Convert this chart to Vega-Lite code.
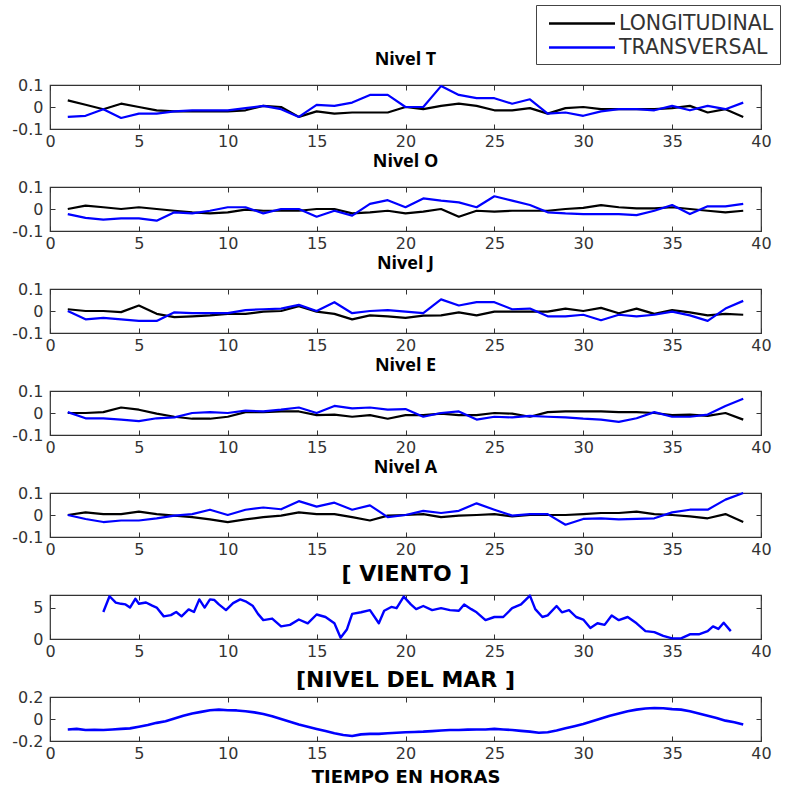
{
  "$schema": "https://vega.github.io/schema/vega-lite/v6.json",
  "background": "white",
  "padding": {"left": 11, "top": 3, "right": 3, "bottom": 2},
  "bounds": "flush",
  "spacing": 58,
  "datasets": {
    "niveles": [
      {"nivel":"T","hora":1,"LONGITUDINAL":0.03,"TRANSVERSAL":-0.045},{"nivel":"T","hora":2,"LONGITUDINAL":0.01,"TRANSVERSAL":-0.04},{"nivel":"T","hora":3,"LONGITUDINAL":-0.01,"TRANSVERSAL":-0.01},{"nivel":"T","hora":4,"LONGITUDINAL":0.015,"TRANSVERSAL":-0.05},{"nivel":"T","hora":5,"LONGITUDINAL":0.0,"TRANSVERSAL":-0.03},{"nivel":"T","hora":6,"LONGITUDINAL":-0.015,"TRANSVERSAL":-0.03},{"nivel":"T","hora":7,"LONGITUDINAL":-0.02,"TRANSVERSAL":-0.02},{"nivel":"T","hora":8,"LONGITUDINAL":-0.02,"TRANSVERSAL":-0.015},{"nivel":"T","hora":9,"LONGITUDINAL":-0.02,"TRANSVERSAL":-0.015},{"nivel":"T","hora":10,"LONGITUDINAL":-0.02,"TRANSVERSAL":-0.015},
      {"nivel":"T","hora":11,"LONGITUDINAL":-0.015,"TRANSVERSAL":-0.005},{"nivel":"T","hora":12,"LONGITUDINAL":0.005,"TRANSVERSAL":0.005},{"nivel":"T","hora":13,"LONGITUDINAL":0.0,"TRANSVERSAL":-0.01},{"nivel":"T","hora":14,"LONGITUDINAL":-0.045,"TRANSVERSAL":-0.045},{"nivel":"T","hora":15,"LONGITUDINAL":-0.02,"TRANSVERSAL":0.01},{"nivel":"T","hora":16,"LONGITUDINAL":-0.03,"TRANSVERSAL":0.005},{"nivel":"T","hora":17,"LONGITUDINAL":-0.025,"TRANSVERSAL":0.02},{"nivel":"T","hora":18,"LONGITUDINAL":-0.025,"TRANSVERSAL":0.055},{"nivel":"T","hora":19,"LONGITUDINAL":-0.025,"TRANSVERSAL":0.055},{"nivel":"T","hora":20,"LONGITUDINAL":0.0,"TRANSVERSAL":0.0},
      {"nivel":"T","hora":21,"LONGITUDINAL":-0.01,"TRANSVERSAL":0.0},{"nivel":"T","hora":22,"LONGITUDINAL":0.005,"TRANSVERSAL":0.095},{"nivel":"T","hora":23,"LONGITUDINAL":0.015,"TRANSVERSAL":0.055},{"nivel":"T","hora":24,"LONGITUDINAL":0.005,"TRANSVERSAL":0.04},{"nivel":"T","hora":25,"LONGITUDINAL":-0.015,"TRANSVERSAL":0.04},{"nivel":"T","hora":26,"LONGITUDINAL":-0.015,"TRANSVERSAL":0.015},{"nivel":"T","hora":27,"LONGITUDINAL":-0.005,"TRANSVERSAL":0.035},{"nivel":"T","hora":28,"LONGITUDINAL":-0.03,"TRANSVERSAL":-0.03},{"nivel":"T","hora":29,"LONGITUDINAL":-0.005,"TRANSVERSAL":-0.025},{"nivel":"T","hora":30,"LONGITUDINAL":0.0,"TRANSVERSAL":-0.04},
      {"nivel":"T","hora":31,"LONGITUDINAL":-0.01,"TRANSVERSAL":-0.02},{"nivel":"T","hora":32,"LONGITUDINAL":-0.01,"TRANSVERSAL":-0.01},{"nivel":"T","hora":33,"LONGITUDINAL":-0.01,"TRANSVERSAL":-0.01},{"nivel":"T","hora":34,"LONGITUDINAL":-0.01,"TRANSVERSAL":-0.015},{"nivel":"T","hora":35,"LONGITUDINAL":-0.005,"TRANSVERSAL":0.005},{"nivel":"T","hora":36,"LONGITUDINAL":0.005,"TRANSVERSAL":-0.015},{"nivel":"T","hora":37,"LONGITUDINAL":-0.025,"TRANSVERSAL":0.005},{"nivel":"T","hora":38,"LONGITUDINAL":-0.01,"TRANSVERSAL":-0.01},{"nivel":"T","hora":39,"LONGITUDINAL":-0.045,"TRANSVERSAL":0.02},

      {"nivel":"O","hora":1,"LONGITUDINAL":0.0,"TRANSVERSAL":-0.023},{"nivel":"O","hora":2,"LONGITUDINAL":0.015,"TRANSVERSAL":-0.04},{"nivel":"O","hora":3,"LONGITUDINAL":0.008,"TRANSVERSAL":-0.048},{"nivel":"O","hora":4,"LONGITUDINAL":0.0,"TRANSVERSAL":-0.043},{"nivel":"O","hora":5,"LONGITUDINAL":0.008,"TRANSVERSAL":-0.043},{"nivel":"O","hora":6,"LONGITUDINAL":0.0,"TRANSVERSAL":-0.053},{"nivel":"O","hora":7,"LONGITUDINAL":-0.008,"TRANSVERSAL":-0.015},{"nivel":"O","hora":8,"LONGITUDINAL":-0.015,"TRANSVERSAL":-0.02},{"nivel":"O","hora":9,"LONGITUDINAL":-0.02,"TRANSVERSAL":-0.008},{"nivel":"O","hora":10,"LONGITUDINAL":-0.015,"TRANSVERSAL":0.008},
      {"nivel":"O","hora":11,"LONGITUDINAL":-0.003,"TRANSVERSAL":0.008},{"nivel":"O","hora":12,"LONGITUDINAL":-0.008,"TRANSVERSAL":-0.02},{"nivel":"O","hora":13,"LONGITUDINAL":-0.008,"TRANSVERSAL":0.0},{"nivel":"O","hora":14,"LONGITUDINAL":-0.008,"TRANSVERSAL":0.0},{"nivel":"O","hora":15,"LONGITUDINAL":0.0,"TRANSVERSAL":-0.035},{"nivel":"O","hora":16,"LONGITUDINAL":0.0,"TRANSVERSAL":-0.008},{"nivel":"O","hora":17,"LONGITUDINAL":-0.02,"TRANSVERSAL":-0.03},{"nivel":"O","hora":18,"LONGITUDINAL":-0.015,"TRANSVERSAL":0.023},{"nivel":"O","hora":19,"LONGITUDINAL":-0.008,"TRANSVERSAL":0.04},{"nivel":"O","hora":20,"LONGITUDINAL":-0.02,"TRANSVERSAL":0.008},
      {"nivel":"O","hora":21,"LONGITUDINAL":-0.012,"TRANSVERSAL":0.048},{"nivel":"O","hora":22,"LONGITUDINAL":0.0,"TRANSVERSAL":0.038},{"nivel":"O","hora":23,"LONGITUDINAL":-0.035,"TRANSVERSAL":0.03},{"nivel":"O","hora":24,"LONGITUDINAL":-0.008,"TRANSVERSAL":0.008},{"nivel":"O","hora":25,"LONGITUDINAL":-0.012,"TRANSVERSAL":0.058},{"nivel":"O","hora":26,"LONGITUDINAL":-0.008,"TRANSVERSAL":0.038},{"nivel":"O","hora":27,"LONGITUDINAL":-0.008,"TRANSVERSAL":0.018},{"nivel":"O","hora":28,"LONGITUDINAL":-0.008,"TRANSVERSAL":-0.015},{"nivel":"O","hora":29,"LONGITUDINAL":0.0,"TRANSVERSAL":-0.02},{"nivel":"O","hora":30,"LONGITUDINAL":0.005,"TRANSVERSAL":-0.023},
      {"nivel":"O","hora":31,"LONGITUDINAL":0.018,"TRANSVERSAL":-0.023},{"nivel":"O","hora":32,"LONGITUDINAL":0.008,"TRANSVERSAL":-0.023},{"nivel":"O","hora":33,"LONGITUDINAL":0.003,"TRANSVERSAL":-0.028},{"nivel":"O","hora":34,"LONGITUDINAL":0.003,"TRANSVERSAL":-0.008},{"nivel":"O","hora":35,"LONGITUDINAL":0.008,"TRANSVERSAL":0.018},{"nivel":"O","hora":36,"LONGITUDINAL":0.0,"TRANSVERSAL":-0.023},{"nivel":"O","hora":37,"LONGITUDINAL":-0.008,"TRANSVERSAL":0.012},{"nivel":"O","hora":38,"LONGITUDINAL":-0.015,"TRANSVERSAL":0.012},{"nivel":"O","hora":39,"LONGITUDINAL":-0.008,"TRANSVERSAL":0.023},

      {"nivel":"J","hora":1,"LONGITUDINAL":0.008,"TRANSVERSAL":0.0},{"nivel":"J","hora":2,"LONGITUDINAL":0.0,"TRANSVERSAL":-0.038},{"nivel":"J","hora":3,"LONGITUDINAL":0.0,"TRANSVERSAL":-0.031},{"nivel":"J","hora":4,"LONGITUDINAL":-0.005,"TRANSVERSAL":-0.038},{"nivel":"J","hora":5,"LONGITUDINAL":0.025,"TRANSVERSAL":-0.045},{"nivel":"J","hora":6,"LONGITUDINAL":-0.013,"TRANSVERSAL":-0.045},{"nivel":"J","hora":7,"LONGITUDINAL":-0.028,"TRANSVERSAL":-0.006},{"nivel":"J","hora":8,"LONGITUDINAL":-0.024,"TRANSVERSAL":-0.01},{"nivel":"J","hora":9,"LONGITUDINAL":-0.02,"TRANSVERSAL":-0.01},{"nivel":"J","hora":10,"LONGITUDINAL":-0.013,"TRANSVERSAL":-0.01},
      {"nivel":"J","hora":11,"LONGITUDINAL":-0.013,"TRANSVERSAL":0.004},{"nivel":"J","hora":12,"LONGITUDINAL":-0.003,"TRANSVERSAL":0.008},{"nivel":"J","hora":13,"LONGITUDINAL":0.0,"TRANSVERSAL":0.011},{"nivel":"J","hora":14,"LONGITUDINAL":0.022,"TRANSVERSAL":0.028},{"nivel":"J","hora":15,"LONGITUDINAL":-0.003,"TRANSVERSAL":0.0},{"nivel":"J","hora":16,"LONGITUDINAL":-0.013,"TRANSVERSAL":0.04},{"nivel":"J","hora":17,"LONGITUDINAL":-0.038,"TRANSVERSAL":-0.01},{"nivel":"J","hora":18,"LONGITUDINAL":-0.02,"TRANSVERSAL":0.0},{"nivel":"J","hora":19,"LONGITUDINAL":-0.024,"TRANSVERSAL":0.004},{"nivel":"J","hora":20,"LONGITUDINAL":-0.031,"TRANSVERSAL":-0.003},
      {"nivel":"J","hora":21,"LONGITUDINAL":-0.021,"TRANSVERSAL":-0.01},{"nivel":"J","hora":22,"LONGITUDINAL":-0.02,"TRANSVERSAL":0.053},{"nivel":"J","hora":23,"LONGITUDINAL":-0.006,"TRANSVERSAL":0.025},{"nivel":"J","hora":24,"LONGITUDINAL":-0.02,"TRANSVERSAL":0.04},{"nivel":"J","hora":25,"LONGITUDINAL":-0.003,"TRANSVERSAL":0.04},{"nivel":"J","hora":26,"LONGITUDINAL":-0.003,"TRANSVERSAL":0.008},{"nivel":"J","hora":27,"LONGITUDINAL":-0.003,"TRANSVERSAL":0.011},{"nivel":"J","hora":28,"LONGITUDINAL":-0.003,"TRANSVERSAL":-0.024},{"nivel":"J","hora":29,"LONGITUDINAL":0.011,"TRANSVERSAL":-0.024},{"nivel":"J","hora":30,"LONGITUDINAL":0.0,"TRANSVERSAL":-0.017},
      {"nivel":"J","hora":31,"LONGITUDINAL":0.014,"TRANSVERSAL":-0.042},{"nivel":"J","hora":32,"LONGITUDINAL":-0.01,"TRANSVERSAL":-0.017},{"nivel":"J","hora":33,"LONGITUDINAL":0.011,"TRANSVERSAL":-0.024},{"nivel":"J","hora":34,"LONGITUDINAL":-0.013,"TRANSVERSAL":-0.017},{"nivel":"J","hora":35,"LONGITUDINAL":0.004,"TRANSVERSAL":-0.003},{"nivel":"J","hora":36,"LONGITUDINAL":-0.006,"TRANSVERSAL":-0.02},{"nivel":"J","hora":37,"LONGITUDINAL":-0.02,"TRANSVERSAL":-0.045},{"nivel":"J","hora":38,"LONGITUDINAL":-0.013,"TRANSVERSAL":0.011},{"nivel":"J","hora":39,"LONGITUDINAL":-0.017,"TRANSVERSAL":0.046},

      {"nivel":"E","hora":1,"LONGITUDINAL":0.0,"TRANSVERSAL":0.004},{"nivel":"E","hora":2,"LONGITUDINAL":0.0,"TRANSVERSAL":-0.024},{"nivel":"E","hora":3,"LONGITUDINAL":0.004,"TRANSVERSAL":-0.024},{"nivel":"E","hora":4,"LONGITUDINAL":0.025,"TRANSVERSAL":-0.03},{"nivel":"E","hora":5,"LONGITUDINAL":0.015,"TRANSVERSAL":-0.037},{"nivel":"E","hora":6,"LONGITUDINAL":-0.003,"TRANSVERSAL":-0.024},{"nivel":"E","hora":7,"LONGITUDINAL":-0.017,"TRANSVERSAL":-0.02},{"nivel":"E","hora":8,"LONGITUDINAL":-0.026,"TRANSVERSAL":0.0},{"nivel":"E","hora":9,"LONGITUDINAL":-0.026,"TRANSVERSAL":0.004},{"nivel":"E","hora":10,"LONGITUDINAL":-0.017,"TRANSVERSAL":0.0},
      {"nivel":"E","hora":11,"LONGITUDINAL":0.004,"TRANSVERSAL":0.011},{"nivel":"E","hora":12,"LONGITUDINAL":0.004,"TRANSVERSAL":0.007},{"nivel":"E","hora":13,"LONGITUDINAL":0.007,"TRANSVERSAL":0.015},{"nivel":"E","hora":14,"LONGITUDINAL":0.007,"TRANSVERSAL":0.025},{"nivel":"E","hora":15,"LONGITUDINAL":-0.01,"TRANSVERSAL":0.0},{"nivel":"E","hora":16,"LONGITUDINAL":-0.007,"TRANSVERSAL":0.032},{"nivel":"E","hora":17,"LONGITUDINAL":-0.017,"TRANSVERSAL":0.021},{"nivel":"E","hora":18,"LONGITUDINAL":-0.01,"TRANSVERSAL":0.025},{"nivel":"E","hora":19,"LONGITUDINAL":-0.026,"TRANSVERSAL":0.015},{"nivel":"E","hora":20,"LONGITUDINAL":-0.01,"TRANSVERSAL":0.018},
      {"nivel":"E","hora":21,"LONGITUDINAL":-0.01,"TRANSVERSAL":-0.017},{"nivel":"E","hora":22,"LONGITUDINAL":-0.003,"TRANSVERSAL":0.0},{"nivel":"E","hora":23,"LONGITUDINAL":-0.01,"TRANSVERSAL":0.007},{"nivel":"E","hora":24,"LONGITUDINAL":-0.01,"TRANSVERSAL":-0.03},{"nivel":"E","hora":25,"LONGITUDINAL":0.0,"TRANSVERSAL":-0.017},{"nivel":"E","hora":26,"LONGITUDINAL":-0.003,"TRANSVERSAL":-0.02},{"nivel":"E","hora":27,"LONGITUDINAL":-0.017,"TRANSVERSAL":-0.013},{"nivel":"E","hora":28,"LONGITUDINAL":0.004,"TRANSVERSAL":-0.017},{"nivel":"E","hora":29,"LONGITUDINAL":0.007,"TRANSVERSAL":-0.02},{"nivel":"E","hora":30,"LONGITUDINAL":0.007,"TRANSVERSAL":-0.026},
      {"nivel":"E","hora":31,"LONGITUDINAL":0.007,"TRANSVERSAL":-0.03},{"nivel":"E","hora":32,"LONGITUDINAL":0.004,"TRANSVERSAL":-0.04},{"nivel":"E","hora":33,"LONGITUDINAL":0.004,"TRANSVERSAL":-0.024},{"nivel":"E","hora":34,"LONGITUDINAL":0.0,"TRANSVERSAL":0.004},{"nivel":"E","hora":35,"LONGITUDINAL":-0.01,"TRANSVERSAL":-0.017},{"nivel":"E","hora":36,"LONGITUDINAL":-0.007,"TRANSVERSAL":-0.017},{"nivel":"E","hora":37,"LONGITUDINAL":-0.013,"TRANSVERSAL":-0.007},{"nivel":"E","hora":38,"LONGITUDINAL":0.0,"TRANSVERSAL":0.032},{"nivel":"E","hora":39,"LONGITUDINAL":-0.03,"TRANSVERSAL":0.065},

      {"nivel":"A","hora":1,"LONGITUDINAL":0.0,"TRANSVERSAL":0.0},{"nivel":"A","hora":2,"LONGITUDINAL":0.012,"TRANSVERSAL":-0.018},{"nivel":"A","hora":3,"LONGITUDINAL":0.004,"TRANSVERSAL":-0.032},{"nivel":"A","hora":4,"LONGITUDINAL":0.004,"TRANSVERSAL":-0.025},{"nivel":"A","hora":5,"LONGITUDINAL":0.015,"TRANSVERSAL":-0.025},{"nivel":"A","hora":6,"LONGITUDINAL":0.004,"TRANSVERSAL":-0.015},{"nivel":"A","hora":7,"LONGITUDINAL":-0.003,"TRANSVERSAL":-0.003},{"nivel":"A","hora":8,"LONGITUDINAL":-0.01,"TRANSVERSAL":0.004},{"nivel":"A","hora":9,"LONGITUDINAL":-0.02,"TRANSVERSAL":0.024},{"nivel":"A","hora":10,"LONGITUDINAL":-0.032,"TRANSVERSAL":0.0},
      {"nivel":"A","hora":11,"LONGITUDINAL":-0.02,"TRANSVERSAL":0.024},{"nivel":"A","hora":12,"LONGITUDINAL":-0.01,"TRANSVERSAL":0.034},{"nivel":"A","hora":13,"LONGITUDINAL":-0.003,"TRANSVERSAL":0.026},{"nivel":"A","hora":14,"LONGITUDINAL":0.012,"TRANSVERSAL":0.063},{"nivel":"A","hora":15,"LONGITUDINAL":0.004,"TRANSVERSAL":0.038},{"nivel":"A","hora":16,"LONGITUDINAL":0.004,"TRANSVERSAL":0.056},{"nivel":"A","hora":17,"LONGITUDINAL":-0.01,"TRANSVERSAL":0.024},{"nivel":"A","hora":18,"LONGITUDINAL":-0.025,"TRANSVERSAL":0.044},{"nivel":"A","hora":19,"LONGITUDINAL":-0.003,"TRANSVERSAL":-0.01},{"nivel":"A","hora":20,"LONGITUDINAL":0.0,"TRANSVERSAL":0.0},
      {"nivel":"A","hora":21,"LONGITUDINAL":0.004,"TRANSVERSAL":0.019},{"nivel":"A","hora":22,"LONGITUDINAL":-0.01,"TRANSVERSAL":0.009},{"nivel":"A","hora":23,"LONGITUDINAL":-0.003,"TRANSVERSAL":0.019},{"nivel":"A","hora":24,"LONGITUDINAL":0.0,"TRANSVERSAL":0.053},{"nivel":"A","hora":25,"LONGITUDINAL":0.004,"TRANSVERSAL":0.024},{"nivel":"A","hora":26,"LONGITUDINAL":-0.006,"TRANSVERSAL":-0.003},{"nivel":"A","hora":27,"LONGITUDINAL":0.0,"TRANSVERSAL":0.004},{"nivel":"A","hora":28,"LONGITUDINAL":0.0,"TRANSVERSAL":0.004},{"nivel":"A","hora":29,"LONGITUDINAL":0.0,"TRANSVERSAL":-0.044},{"nivel":"A","hora":30,"LONGITUDINAL":0.004,"TRANSVERSAL":-0.018},
      {"nivel":"A","hora":31,"LONGITUDINAL":0.009,"TRANSVERSAL":-0.015},{"nivel":"A","hora":32,"LONGITUDINAL":0.009,"TRANSVERSAL":-0.02},{"nivel":"A","hora":33,"LONGITUDINAL":0.015,"TRANSVERSAL":-0.018},{"nivel":"A","hora":34,"LONGITUDINAL":0.004,"TRANSVERSAL":-0.015},{"nivel":"A","hora":35,"LONGITUDINAL":0.0,"TRANSVERSAL":0.012},{"nivel":"A","hora":36,"LONGITUDINAL":-0.006,"TRANSVERSAL":0.024},{"nivel":"A","hora":37,"LONGITUDINAL":-0.015,"TRANSVERSAL":0.024},{"nivel":"A","hora":38,"LONGITUDINAL":0.004,"TRANSVERSAL":0.07},{"nivel":"A","hora":39,"LONGITUDINAL":-0.032,"TRANSVERSAL":0.1}
    ],
    "viento": [
      {"hora":3.0,"v":4.3},{"hora":3.35,"v":6.8},{"hora":3.7,"v":5.8},{"hora":4.0,"v":5.6},{"hora":4.25,"v":5.5},{"hora":4.5,"v":5.0},{"hora":4.8,"v":6.4},{"hora":5.0,"v":5.6},{"hora":5.4,"v":5.8},{"hora":5.75,"v":5.3},{"hora":6.0,"v":5.0},{"hora":6.4,"v":3.6},{"hora":6.8,"v":3.8},{"hora":7.1,"v":4.3},{"hora":7.4,"v":3.6},{"hora":7.8,"v":4.7},{"hora":8.1,"v":4.3},{"hora":8.4,"v":6.3},{"hora":8.7,"v":5.0},{"hora":9.0,"v":6.3},{"hora":9.25,"v":6.2},{"hora":9.5,"v":5.5},{"hora":9.9,"v":4.6},{"hora":10.3,"v":5.7},{"hora":10.7,"v":6.3},{"hora":11.0,"v":6.0},{"hora":11.4,"v":5.3},{"hora":11.7,"v":4.0},{"hora":12.0,"v":3.0},{"hora":12.5,"v":3.25},{"hora":13.0,"v":2.0},{"hora":13.5,"v":2.25},{"hora":14.0,"v":3.1},{"hora":14.5,"v":2.5},{"hora":15.0,"v":3.9},{"hora":15.5,"v":3.5},{"hora":16.0,"v":2.5},{"hora":16.35,"v":0.2},{"hora":16.7,"v":1.5},{"hora":17.0,"v":4.0},{"hora":17.5,"v":4.25},{"hora":18.0,"v":4.6},{"hora":18.5,"v":2.5},{"hora":18.8,"v":4.5},{"hora":19.2,"v":5.1},{"hora":19.5,"v":4.9},{"hora":19.9,"v":6.75},{"hora":20.3,"v":5.5},{"hora":20.6,"v":4.75},{"hora":21.0,"v":5.25},{"hora":21.5,"v":4.6},{"hora":22.0,"v":4.9},{"hora":22.5,"v":4.6},{"hora":23.0,"v":4.5},{"hora":23.3,"v":5.5},{"hora":23.7,"v":4.75},{"hora":24.0,"v":4.25},{"hora":24.5,"v":3.0},{"hora":25.0,"v":3.5},{"hora":25.5,"v":3.5},{"hora":26.0,"v":4.9},{"hora":26.5,"v":5.5},{"hora":27.0,"v":6.9},{"hora":27.3,"v":4.75},{"hora":27.7,"v":3.5},{"hora":28.0,"v":3.75},{"hora":28.5,"v":5.25},{"hora":28.8,"v":4.25},{"hora":29.2,"v":4.6},{"hora":29.6,"v":3.5},{"hora":30.0,"v":3.1},{"hora":30.4,"v":1.75},{"hora":30.8,"v":2.5},{"hora":31.2,"v":2.25},{"hora":31.6,"v":3.75},{"hora":32.0,"v":3.0},{"hora":32.5,"v":3.5},{"hora":33.0,"v":2.5},{"hora":33.5,"v":1.25},{"hora":34.0,"v":1.1},{"hora":34.5,"v":0.5},{"hora":35.0,"v":0.1},{"hora":35.5,"v":0.1},{"hora":36.0,"v":0.75},{"hora":36.5,"v":0.75},{"hora":37.0,"v":1.25},{"hora":37.3,"v":2.0},{"hora":37.6,"v":1.6},{"hora":37.9,"v":2.6},{"hora":38.3,"v":1.25}
    ],
    "mar": [
      {"hora":1,"v":-0.095},{"hora":1.5,"v":-0.09},{"hora":2,"v":-0.1},{"hora":2.5,"v":-0.098},{"hora":3,"v":-0.1},{"hora":3.5,"v":-0.095},{"hora":4,"v":-0.09},{"hora":4.5,"v":-0.085},{"hora":5,"v":-0.07},{"hora":5.5,"v":-0.055},{"hora":6,"v":-0.035},{"hora":6.5,"v":-0.02},{"hora":7,"v":0.005},{"hora":7.5,"v":0.03},{"hora":8,"v":0.05},{"hora":8.5,"v":0.065},{"hora":9,"v":0.08},{"hora":9.5,"v":0.085},{"hora":10,"v":0.08},{"hora":10.5,"v":0.078},{"hora":11,"v":0.07},{"hora":11.5,"v":0.06},{"hora":12,"v":0.045},{"hora":12.5,"v":0.025},{"hora":13,"v":0.0},{"hora":13.5,"v":-0.025},{"hora":14,"v":-0.05},{"hora":14.5,"v":-0.07},{"hora":15,"v":-0.09},{"hora":15.5,"v":-0.11},{"hora":16,"v":-0.13},{"hora":16.5,"v":-0.145},{"hora":17,"v":-0.155},{"hora":17.5,"v":-0.14},{"hora":18,"v":-0.135},{"hora":18.5,"v":-0.135},{"hora":19,"v":-0.13},{"hora":19.5,"v":-0.125},{"hora":20,"v":-0.12},{"hora":20.5,"v":-0.118},{"hora":21,"v":-0.115},{"hora":21.5,"v":-0.11},{"hora":22,"v":-0.105},{"hora":22.5,"v":-0.1},{"hora":23,"v":-0.1},{"hora":23.5,"v":-0.097},{"hora":24,"v":-0.095},{"hora":24.5,"v":-0.095},{"hora":25,"v":-0.09},{"hora":25.5,"v":-0.095},{"hora":26,"v":-0.1},{"hora":26.5,"v":-0.108},{"hora":27,"v":-0.115},{"hora":27.5,"v":-0.125},{"hora":28,"v":-0.12},{"hora":28.5,"v":-0.105},{"hora":29,"v":-0.085},{"hora":29.5,"v":-0.065},{"hora":30,"v":-0.045},{"hora":30.5,"v":-0.02},{"hora":31,"v":0.005},{"hora":31.5,"v":0.03},{"hora":32,"v":0.05},{"hora":32.5,"v":0.07},{"hora":33,"v":0.085},{"hora":33.5,"v":0.095},{"hora":34,"v":0.1},{"hora":34.5,"v":0.098},{"hora":35,"v":0.09},{"hora":35.5,"v":0.085},{"hora":36,"v":0.07},{"hora":36.5,"v":0.05},{"hora":37,"v":0.03},{"hora":37.5,"v":0.01},{"hora":38,"v":-0.015},{"hora":38.5,"v":-0.03},{"hora":39,"v":-0.05}
    ]
  },
  "vconcat": [
    {
      "title": {"text": "Nivel T", "offset": -64},
      "data": {"name": "niveles"},
      "transform": [{"filter": "datum.nivel === 'T'"}, {"fold": ["LONGITUDINAL", "TRANSVERSAL"], "as": ["serie", "valor"]}],
      "width": 711, "height": 44,
      "layer": [
        {"mark": {"type": "line", "strokeWidth": 2.2},
         "encoding": {
           "x": {"field": "hora", "type": "quantitative", "scale": {"domain": [0, 40], "nice": false}, "axis": {"values": [0,5,10,15,20,25,30,35,40], "title": null}},
           "y": {"field": "valor", "type": "quantitative", "scale": {"domain": [-0.1, 0.1], "nice": false}, "axis": {"values": [-0.1, 0, 0.1], "title": null}},
           "color": {"field": "serie", "type": "nominal", "scale": {"domain": ["LONGITUDINAL", "TRANSVERSAL"], "range": ["#000000", "#0000ff"]},
             "legend": {"orient": "none", "legendX": 486, "legendY": -80, "title": null, "symbolType": "M-0.5,0H5.5", "symbolSize": 484, "symbolStrokeWidth": 2.5, "labelFont": "DejaVu Sans", "labelFontSize": 20.5, "labelColor": "#333", "strokeColor": "#444", "fillColor": "white", "padding": 6, "rowPadding": 1, "labelOffset": 52}}
         }},
        {"mark": {"type": "line", "opacity": 0},
         "encoding": {
           "x": {"field": "hora", "type": "quantitative", "axis": {"orient": "top", "labels": false, "values": [0,5,10,15,20,25,30,35,40], "title": null}},
           "y": {"field": "valor", "type": "quantitative", "axis": {"orient": "right", "labels": false, "values": [-0.1, 0, 0.1], "title": null}},
           "detail": {"field": "serie"}
         }}
      ],
      "resolve": {"axis": {"x": "independent", "y": "independent"}}
    },
    {
      "title": {"text": "Nivel O"},
      "data": {"name": "niveles"},
      "transform": [{"filter": "datum.nivel === 'O'"}, {"fold": ["LONGITUDINAL", "TRANSVERSAL"], "as": ["serie", "valor"]}],
      "width": 711, "height": 44,
      "layer": [
        {"mark": {"type": "line", "strokeWidth": 2.2},
         "encoding": {
           "x": {"field": "hora", "type": "quantitative", "scale": {"domain": [0, 40], "nice": false}, "axis": {"values": [0,5,10,15,20,25,30,35,40], "title": null}},
           "y": {"field": "valor", "type": "quantitative", "scale": {"domain": [-0.1, 0.1], "nice": false}, "axis": {"values": [-0.1, 0, 0.1], "title": null}},
           "color": {"field": "serie", "type": "nominal", "scale": {"domain": ["LONGITUDINAL", "TRANSVERSAL"], "range": ["#000000", "#0000ff"]}, "legend": null}
         }},
        {"mark": {"type": "line", "opacity": 0},
         "encoding": {
           "x": {"field": "hora", "type": "quantitative", "axis": {"orient": "top", "labels": false, "values": [0,5,10,15,20,25,30,35,40], "title": null}},
           "y": {"field": "valor", "type": "quantitative", "axis": {"orient": "right", "labels": false, "values": [-0.1, 0, 0.1], "title": null}},
           "detail": {"field": "serie"}
         }}
      ],
      "resolve": {"axis": {"x": "independent", "y": "independent"}}
    },
    {
      "title": {"text": "Nivel J"},
      "data": {"name": "niveles"},
      "transform": [{"filter": "datum.nivel === 'J'"}, {"fold": ["LONGITUDINAL", "TRANSVERSAL"], "as": ["serie", "valor"]}],
      "width": 711, "height": 44,
      "layer": [
        {"mark": {"type": "line", "strokeWidth": 2.2},
         "encoding": {
           "x": {"field": "hora", "type": "quantitative", "scale": {"domain": [0, 40], "nice": false}, "axis": {"values": [0,5,10,15,20,25,30,35,40], "title": null}},
           "y": {"field": "valor", "type": "quantitative", "scale": {"domain": [-0.1, 0.1], "nice": false}, "axis": {"values": [-0.1, 0, 0.1], "title": null}},
           "color": {"field": "serie", "type": "nominal", "scale": {"domain": ["LONGITUDINAL", "TRANSVERSAL"], "range": ["#000000", "#0000ff"]}, "legend": null}
         }},
        {"mark": {"type": "line", "opacity": 0},
         "encoding": {
           "x": {"field": "hora", "type": "quantitative", "axis": {"orient": "top", "labels": false, "values": [0,5,10,15,20,25,30,35,40], "title": null}},
           "y": {"field": "valor", "type": "quantitative", "axis": {"orient": "right", "labels": false, "values": [-0.1, 0, 0.1], "title": null}},
           "detail": {"field": "serie"}
         }}
      ],
      "resolve": {"axis": {"x": "independent", "y": "independent"}}
    },
    {
      "title": {"text": "Nivel E"},
      "data": {"name": "niveles"},
      "transform": [{"filter": "datum.nivel === 'E'"}, {"fold": ["LONGITUDINAL", "TRANSVERSAL"], "as": ["serie", "valor"]}],
      "width": 711, "height": 44,
      "layer": [
        {"mark": {"type": "line", "strokeWidth": 2.2},
         "encoding": {
           "x": {"field": "hora", "type": "quantitative", "scale": {"domain": [0, 40], "nice": false}, "axis": {"values": [0,5,10,15,20,25,30,35,40], "title": null}},
           "y": {"field": "valor", "type": "quantitative", "scale": {"domain": [-0.1, 0.1], "nice": false}, "axis": {"values": [-0.1, 0, 0.1], "title": null}},
           "color": {"field": "serie", "type": "nominal", "scale": {"domain": ["LONGITUDINAL", "TRANSVERSAL"], "range": ["#000000", "#0000ff"]}, "legend": null}
         }},
        {"mark": {"type": "line", "opacity": 0},
         "encoding": {
           "x": {"field": "hora", "type": "quantitative", "axis": {"orient": "top", "labels": false, "values": [0,5,10,15,20,25,30,35,40], "title": null}},
           "y": {"field": "valor", "type": "quantitative", "axis": {"orient": "right", "labels": false, "values": [-0.1, 0, 0.1], "title": null}},
           "detail": {"field": "serie"}
         }}
      ],
      "resolve": {"axis": {"x": "independent", "y": "independent"}}
    },
    {
      "title": {"text": "Nivel A"},
      "data": {"name": "niveles"},
      "transform": [{"filter": "datum.nivel === 'A'"}, {"fold": ["LONGITUDINAL", "TRANSVERSAL"], "as": ["serie", "valor"]}],
      "width": 711, "height": 44,
      "layer": [
        {"mark": {"type": "line", "strokeWidth": 2.2},
         "encoding": {
           "x": {"field": "hora", "type": "quantitative", "scale": {"domain": [0, 40], "nice": false}, "axis": {"values": [0,5,10,15,20,25,30,35,40], "title": null}},
           "y": {"field": "valor", "type": "quantitative", "scale": {"domain": [-0.1, 0.1], "nice": false}, "axis": {"values": [-0.1, 0, 0.1], "title": null}},
           "color": {"field": "serie", "type": "nominal", "scale": {"domain": ["LONGITUDINAL", "TRANSVERSAL"], "range": ["#000000", "#0000ff"]}, "legend": null}
         }},
        {"mark": {"type": "line", "opacity": 0},
         "encoding": {
           "x": {"field": "hora", "type": "quantitative", "axis": {"orient": "top", "labels": false, "values": [0,5,10,15,20,25,30,35,40], "title": null}},
           "y": {"field": "valor", "type": "quantitative", "axis": {"orient": "right", "labels": false, "values": [-0.1, 0, 0.1], "title": null}},
           "detail": {"field": "serie"}
         }}
      ],
      "resolve": {"axis": {"x": "independent", "y": "independent"}}
    },
    {
      "title": {"text": "[ VIENTO ]", "font": "DejaVu Sans", "fontSize": 22, "offset": 8},
      "data": {"name": "viento"},
      "width": 711, "height": 44,
      "layer": [
        {"mark": {"type": "line", "strokeWidth": 2.4, "color": "#0000ff"},
         "encoding": {
           "x": {"field": "hora", "type": "quantitative", "scale": {"domain": [0, 40], "nice": false}, "axis": {"values": [0,5,10,15,20,25,30,35,40], "title": null}},
           "y": {"field": "v", "type": "quantitative", "scale": {"domain": [0, 7], "nice": false, "zero": false}, "axis": {"values": [0, 5], "title": null}}
         }},
        {"mark": {"type": "line", "opacity": 0},
         "encoding": {
           "x": {"field": "hora", "type": "quantitative", "axis": {"orient": "top", "labels": false, "values": [0,5,10,15,20,25,30,35,40], "title": null}},
           "y": {"field": "v", "type": "quantitative", "axis": {"orient": "right", "labels": false, "values": [0, 5], "title": null}}
         }}
      ],
      "resolve": {"axis": {"x": "independent", "y": "independent"}}
    },
    {
      "title": {"text": "[NIVEL DEL MAR ]", "font": "DejaVu Sans", "fontSize": 22, "offset": -3},
      "data": {"name": "mar"},
      "width": 711, "height": 44,
      "layer": [
        {"mark": {"type": "line", "strokeWidth": 2.6, "color": "#0000ff"},
         "encoding": {
           "x": {"field": "hora", "type": "quantitative", "scale": {"domain": [0, 40], "nice": false}, "axis": {"values": [0,5,10,15,20,25,30,35,40], "title": "TIEMPO EN HORAS"}},
           "y": {"field": "v", "type": "quantitative", "scale": {"domain": [-0.2, 0.2], "nice": false}, "axis": {"values": [-0.2, 0, 0.2], "title": null}}
         }},
        {"mark": {"type": "line", "opacity": 0},
         "encoding": {
           "x": {"field": "hora", "type": "quantitative", "axis": {"orient": "top", "labels": false, "values": [0,5,10,15,20,25,30,35,40], "title": null}},
           "y": {"field": "v", "type": "quantitative", "axis": {"orient": "right", "labels": false, "values": [-0.2, 0, 0.2], "title": null}}
         }}
      ],
      "resolve": {"axis": {"x": "independent", "y": "independent"}}
    }
  ],
  "resolve": {"scale": {"color": "independent"}, "legend": {"color": "independent"}},
  "config": {
    "view": {"stroke": "#333", "strokeWidth": 1.2},
    "title": {"font": "Open Sans", "fontSize": 18, "fontWeight": "bold", "color": "#000", "offset": 8, "anchor": "middle"},
    "axis": {
      "domain": false, "grid": false, "ticks": true, "tickSize": -5, "tickColor": "#333", "tickWidth": 1,
      "labelFont": "DejaVu Sans", "labelFontSize": 16, "labelColor": "#333",
      "labelFlush": false, "labelOverlap": false,
      "labelExpr": "replace(format(datum.value, '~g'), '\u2212', '-')",
      "titleFont": "DejaVu Sans", "titleFontSize": 18, "titleFontWeight": "bold", "titleColor": "#000", "titlePadding": 7
    },
    "axisX": {"labelPadding": 9},
    "axisY": {"labelPadding": 12},
    "line": {"strokeJoin": "round"}
  }
}
